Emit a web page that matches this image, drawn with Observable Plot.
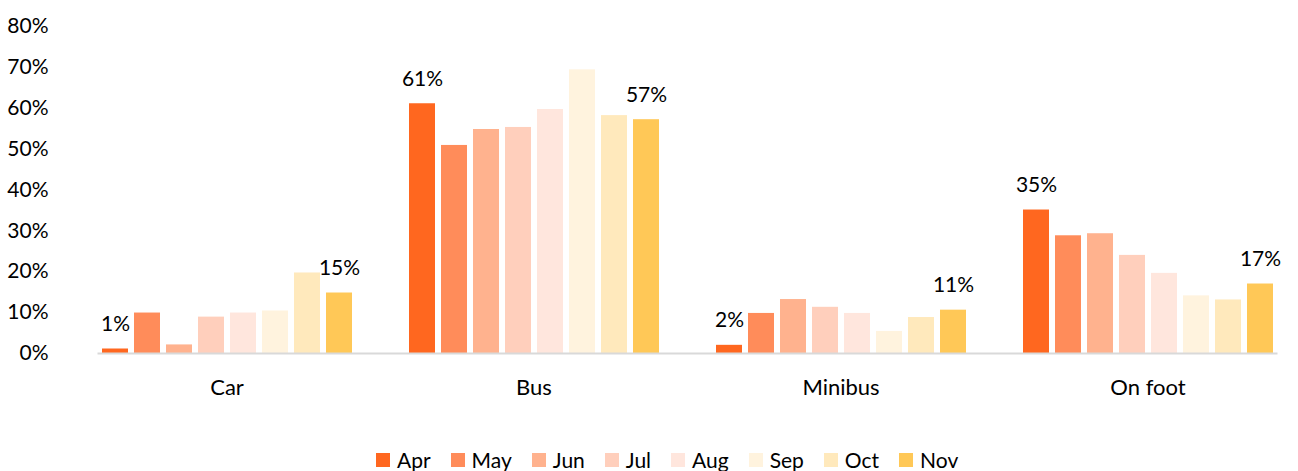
<!DOCTYPE html>
<html>
<head>
<meta charset="utf-8">
<script src="https://cdn.jsdelivr.net/npm/d3@7"></script>
<script src="https://cdn.jsdelivr.net/npm/@observablehq/plot@0.6"></script>
<style>
  html, body { margin: 0; padding: 0; background: #fff; overflow: hidden; }
  body { font-family: Lato, "Open Sans", sans-serif; color: #000; width: 1298px; }
  #legend { display: flex; justify-content: flex-start; align-items: center; padding-left: 376px; margin-top: 24px; font-size: 21px; line-height: 22px; }
  .item { display: flex; align-items: center; margin-right: 20px; }
  .sw { width: 14px; height: 14px; margin-right: 7px; display: inline-block; }
</style>
</head>
<body>
<div id="chart"></div>
<div id="legend"></div>
<script>
const categories = ["Car", "Bus", "Minibus", "On foot"];
const months = ["Apr", "May", "Jun", "Jul", "Aug", "Sep", "Oct", "Nov"];
const colors = ["#FF671F", "#FF8C5A", "#FFB28E", "#FFCFBC", "#FFE6DD", "#FFF3DE", "#FFE9BC", "#FFC857"];
const yTicks = [0, 10, 20, 30, 40, 50, 60, 70, 80];

// values per month, in order of categories (Car, Bus, Minibus, On foot), in %
const apr = [1.1, 61.1, 2.0, 35.1];
const may = [9.9, 50.9, 9.8, 28.8];
const jun = [2.1, 54.8, 13.2, 29.3];
const jul = [8.9, 55.3, 11.3, 24.0];
const aug = [9.9, 59.7, 9.8, 19.6];
const sep = [10.4, 69.4, 5.4, 14.1];
const oct = [19.7, 58.2, 8.8, 13.1];
const nov = [14.8, 57.2, 10.6, 17.0];
const labeledMonths = ["Apr", "Nov"];

const series = [apr, may, jun, jul, aug, sep, oct, nov];
const data = [];
categories.forEach((c, i) => months.forEach((m, j) => data.push({category: c, month: m, value: series[j][i]})));
const labelData = data.filter(d => labeledMonths.includes(d.month));

const chart = Plot.plot({
  width: 1298,
  height: 425,
  marginTop: 26,
  marginLeft: 72,
  marginRight: -5,
  marginBottom: 72,
  style: {fontFamily: "Lato, sans-serif", fontSize: "21px", color: "#000", background: "#fff", overflow: "visible"},
  fx: {domain: categories, paddingInner: 0.162, paddingOuter: 0.081, label: null},
  x: {domain: months, paddingInner: 0.19, paddingOuter: 0.05, axis: null},
  y: {domain: [0, 80], label: null},
  color: {domain: months, range: colors},
  marks: [
    Plot.axisY({ticks: yTicks, tickSize: 0, tickPadding: 50, tickFormat: d => d + "%", label: null, fill: "#000"}),
    Plot.axisFx({anchor: "bottom", tickSize: 0, tickPadding: 26, label: null, fill: "#000", fontSize: 22}),
    Plot.barY(data, {fx: "category", x: "month", y: "value", fill: "month"}),
    Plot.frame({anchor: "bottom", facet: "super", stroke: "#d9d9d9", strokeWidth: 2}),
    Plot.text(labelData, {fx: "category", x: "month", y: "value", text: d => Math.round(d.value) + "%", dy: -18, lineAnchor: "bottom", fill: "#000", fontSize: 21})
  ]
});
document.getElementById("chart").append(chart);

const legend = document.getElementById("legend");
months.forEach((m, i) => {
  const it = document.createElement("div");
  it.className = "item";
  const sw = document.createElement("span");
  sw.className = "sw";
  sw.style.background = colors[i];
  const t = document.createElement("span");
  t.textContent = m;
  it.append(sw, t);
  legend.append(it);
});
</script>
</body>
</html>
